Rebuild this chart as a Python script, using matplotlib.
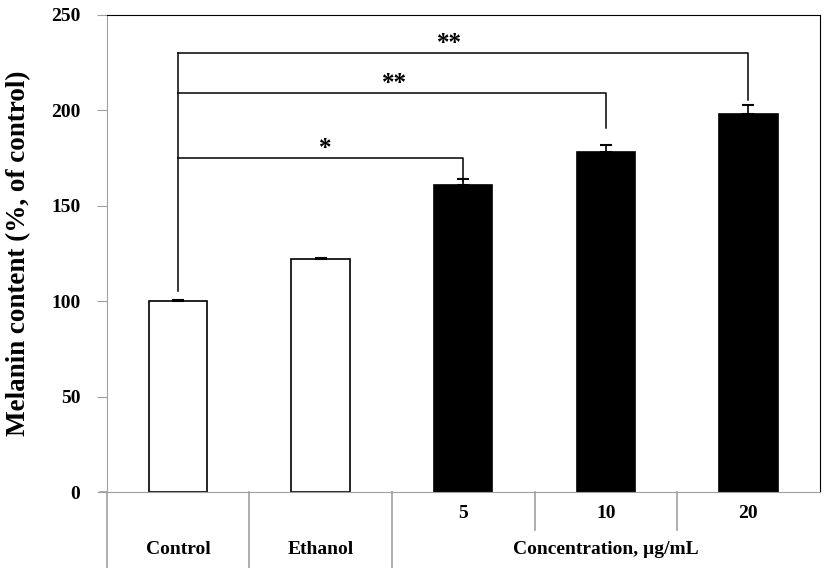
import numpy as np
import matplotlib.pyplot as plt
import matplotlib.transforms as mtransforms

# Data
groups = ['Control', 'Ethanol', '5', '10', '20']
melanin = [100, 122, 161, 178, 198]
errors = [0.8, 0.8, 3, 4, 5]
bar_colors = ['white', 'white', 'black', 'black', 'black']
conc_labels = ['5', '10', '20']
bottom_labels = ['Control', 'Ethanol', 'Concentration, \u00b5g/mL']

# significance brackets from control to each concentration
sig_targets = [2, 3, 4]
sig_heights = [175, 209, 230]
sig_drop = [163, 191, 205.5]
sig_stars = ['*', '**', '**']
star_x = [1.03, 1.52, 1.90]

plt.rcParams['font.family'] = ['Liberation Serif', 'DejaVu Serif']
plt.rcParams['font.weight'] = 'bold'

fig = plt.figure(figsize=(8.28, 5.68), dpi=100)
ax = fig.add_axes([0.129, 0.1338, 0.861, 0.8398])

x = np.arange(len(groups))
ax.bar(x, melanin, width=0.41, color=bar_colors, edgecolor='black', linewidth=1.2, zorder=2)
ax.errorbar(x, melanin, yerr=[[0] * len(errors), errors], fmt='none', ecolor='black',
            elinewidth=1.2, capsize=4, capthick=1.5, zorder=3)

lw = 1.1
ax.plot([0, 0], [105.5, sig_heights[-1]], color='black', lw=lw)
for t, h, d, s, sx in zip(sig_targets, sig_heights, sig_drop, sig_stars, star_x):
    ax.plot([0, t, t], [h, h, d], color='black', lw=lw)
    ax.text(sx, h + 1.5, s, ha='center', va='baseline', fontsize=18, fontweight='bold')

ax.set_xlim(-0.5, 4.5)
ax.set_ylim(0, 250)
ax.set_yticks([0, 50, 100, 150, 200, 250])
ax.set_xticks([])
ax.tick_params(axis='y', direction='out', length=7, color='#a0a0a0', labelsize=14, pad=12)
for lab in ax.get_yticklabels():
    lab.set_fontweight('bold')
ax.set_ylabel('Melanin content (%, of control)', fontsize=19.5, fontweight='bold', labelpad=14)

ax.spines['left'].set_color('#a0a0a0')
ax.spines['bottom'].set_color('#a0a0a0')
ax.spines['top'].set_color('black')
ax.spines['right'].set_color('black')

# category table below the axis
trans = mtransforms.blended_transform_factory(ax.transData, ax.transAxes)
grey = '#a0a0a0'
for bx in [-0.5, 0.5, 1.5]:
    ax.plot([bx, bx], [0, -0.16], color=grey, lw=1.2, transform=trans, clip_on=False)
for bx in [2.5, 3.5]:
    ax.plot([bx, bx], [0, -0.08], color=grey, lw=1.2, transform=trans, clip_on=False)
ax.plot([-0.55, -0.5], [0, 0], color=grey, lw=1.2, transform=trans, clip_on=False)

for i, lab in enumerate(conc_labels):
    ax.text(2 + i, -0.045, lab, transform=trans, ha='center', va='center', fontsize=14, fontweight='bold')
for xc, lab in zip([0, 1, 3], bottom_labels):
    ax.text(xc, -0.12, lab, transform=trans, ha='center', va='center', fontsize=14, fontweight='bold')

fig.savefig('out.png', dpi=100)
